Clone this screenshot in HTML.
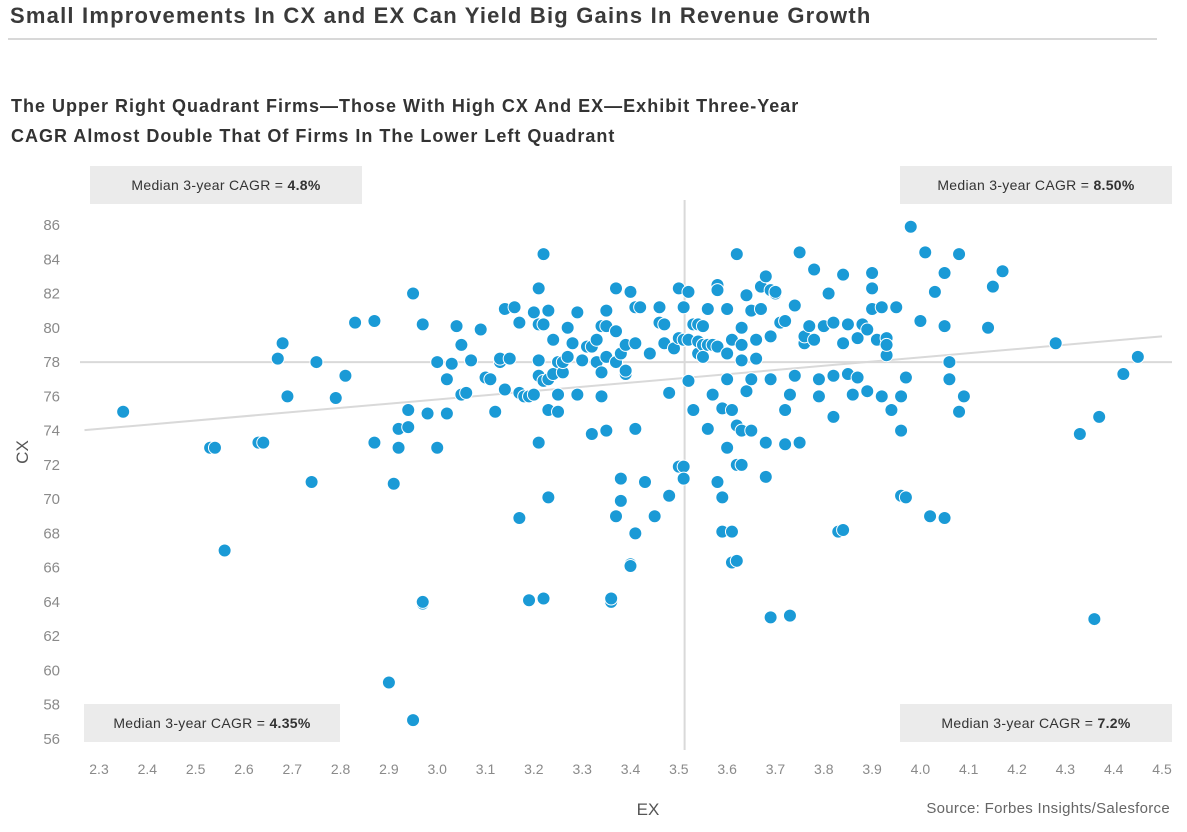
<!DOCTYPE html>
<html><head><meta charset="utf-8"><style>
body{margin:0;width:1187px;height:832px;background:#fff;font-family:"Liberation Sans",sans-serif;overflow:hidden;position:relative}
.t{position:absolute;white-space:nowrap}
.box{position:absolute;background:#ebebeb;height:38px;line-height:38px;text-align:center;font-size:14px;color:#333;letter-spacing:0.3px}
</style></head><body>
<div class="t" style="left:10px;top:3px;font-size:22px;font-weight:bold;color:#3a3a3a;letter-spacing:1.2px">Small Improvements In CX and EX Can Yield Big Gains In Revenue Growth</div>
<div style="position:absolute;left:8px;top:38px;width:1149px;height:2px;background:#d8d8d8"></div>
<div class="t" style="left:11px;top:91px;font-size:18px;font-weight:bold;color:#333;line-height:30px;letter-spacing:1px">The Upper Right Quadrant Firms—Those With High CX And EX—Exhibit Three-Year<br>CAGR Almost Double That Of Firms In The Lower Left Quadrant</div>
<div class="box" style="left:90px;top:166px;width:272px">Median 3-year CAGR = <b>4.8%</b></div>
<div class="box" style="left:900px;top:166px;width:272px">Median 3-year CAGR = <b>8.50%</b></div>
<div class="box" style="left:84px;top:704px;width:256px">Median 3-year CAGR = <b>4.35%</b></div>
<div class="box" style="left:900px;top:704px;width:272px">Median 3-year CAGR = <b>7.2%</b></div>
<div class="t" style="right:17px;top:800px;font-size:15px;color:#666;letter-spacing:0.3px">Source: Forbes Insights/Salesforce</div>
<svg id="chart" width="1187" height="832" style="position:absolute;left:0;top:0"></svg>
<script>
const xTicks=[2.3,2.4,2.5,2.6,2.7,2.8,2.9,3.0,3.1,3.2,3.3,3.4,3.5,3.6,3.7,3.8,3.9,4.0,4.1,4.2,4.3,4.4,4.5];
const yTicks=[56,58,60,62,64,66,68,70,72,74,76,78,80,82,84,86];
const medianEX=3.512, medianCX=78;
const trendStart=[2.3,74.1], trendEnd=[4.5,79.5];
const exValues=[2.35,2.53,2.54,2.56,2.63,2.64,2.67,2.68,2.69,2.74,2.75,2.79,2.81,2.83,2.87,2.87,2.90,2.91,2.92,2.92,2.94,2.94,2.95,2.95,2.97,2.97,2.97,2.98,3.00,3.00,3.02,3.02,3.03,3.04,3.05,3.05,3.06,3.07,3.09,3.10,3.11,3.12,3.13,3.13,3.14,3.14,3.15,3.16,3.17,3.17,3.17,3.18,3.19,3.19,3.20,3.20,3.21,3.21,3.21,3.21,3.21,3.22,3.22,3.22,3.22,3.23,3.23,3.23,3.23,3.24,3.24,3.25,3.25,3.25,3.26,3.26,3.27,3.27,3.28,3.29,3.29,3.30,3.31,3.32,3.32,3.33,3.33,3.34,3.34,3.34,3.35,3.35,3.35,3.35,3.36,3.36,3.37,3.37,3.37,3.37,3.38,3.38,3.38,3.39,3.39,3.39,3.40,3.40,3.40,3.41,3.41,3.41,3.41,3.42,3.43,3.44,3.45,3.46,3.46,3.47,3.47,3.48,3.48,3.49,3.50,3.50,3.50,3.51,3.51,3.51,3.51,3.52,3.52,3.52,3.53,3.53,3.54,3.54,3.54,3.55,3.55,3.55,3.56,3.56,3.56,3.57,3.57,3.58,3.58,3.58,3.58,3.59,3.59,3.59,3.60,3.60,3.60,3.60,3.61,3.61,3.61,3.61,3.62,3.62,3.62,3.62,3.63,3.63,3.63,3.63,3.63,3.64,3.64,3.65,3.65,3.65,3.66,3.66,3.67,3.67,3.68,3.68,3.68,3.69,3.69,3.69,3.69,3.70,3.70,3.71,3.72,3.72,3.72,3.73,3.73,3.74,3.74,3.75,3.75,3.76,3.76,3.77,3.78,3.78,3.79,3.79,3.80,3.81,3.82,3.82,3.82,3.83,3.84,3.84,3.84,3.85,3.85,3.86,3.87,3.87,3.88,3.89,3.89,3.90,3.90,3.90,3.91,3.92,3.92,3.93,3.93,3.93,3.94,3.95,3.96,3.96,3.96,3.97,3.97,3.98,4.00,4.01,4.02,4.03,4.05,4.05,4.05,4.06,4.06,4.08,4.08,4.09,4.14,4.15,4.17,4.28,4.33,4.36,4.37,4.42,4.45];
const cxValues=[75.1,73.0,73.0,67.0,73.3,73.3,78.2,79.1,76.0,71.0,78.0,75.9,77.2,80.3,80.4,73.3,59.3,70.9,73.0,74.1,74.2,75.2,57.1,82.0,63.9,64.0,80.2,75.0,73.0,78.0,77.0,75.0,77.9,80.1,76.1,79.0,76.2,78.1,79.9,77.1,77.0,75.1,78.0,78.2,76.4,81.1,78.2,81.2,68.9,76.2,80.3,76.0,76.0,64.1,80.9,76.1,73.3,77.2,78.1,82.3,80.2,64.2,84.3,76.9,80.2,81.0,77.0,70.1,75.2,77.3,79.3,78.0,75.1,76.1,77.4,78.0,80.0,78.3,79.1,80.9,76.1,78.1,78.9,73.8,78.9,79.3,78.0,76.0,80.1,77.4,80.1,74.0,81.0,78.3,64.0,64.2,78.0,69.0,79.8,82.3,71.2,69.9,78.5,77.3,79.0,77.5,82.1,66.2,66.1,74.1,68.0,81.2,79.1,81.2,71.0,78.5,69.0,80.3,81.2,80.2,79.1,76.2,70.2,78.8,82.3,79.4,71.9,79.3,71.9,71.2,81.2,79.3,82.1,76.9,80.2,75.2,80.2,78.5,79.2,79.0,80.1,78.3,74.1,79.0,81.1,76.1,79.0,71.0,78.9,82.5,82.2,75.3,70.1,68.1,81.1,77.0,73.0,78.5,68.1,79.3,66.3,75.2,84.3,74.3,72.0,66.4,80.0,79.0,72.0,78.1,74.0,81.9,76.3,74.0,81.0,77.0,78.2,79.3,82.4,81.1,83.0,73.3,71.3,63.1,77.0,79.5,82.2,82.0,82.1,80.3,75.2,73.2,80.4,63.2,76.1,77.2,81.3,84.4,73.3,79.1,79.5,80.1,83.4,79.3,76.0,77.0,80.1,82.0,74.8,77.2,80.3,68.1,68.2,79.1,83.1,77.3,80.2,76.1,79.4,77.1,80.2,76.3,79.9,83.2,82.3,81.1,79.3,76.0,81.2,78.4,79.4,79.0,75.2,81.2,74.0,76.0,70.2,70.1,77.1,85.9,80.4,84.4,69.0,82.1,83.2,68.9,80.1,78.0,77.0,84.3,75.1,76.0,80.0,82.4,83.3,79.1,73.8,63.0,74.8,77.3,78.3];

const NS='http://www.w3.org/2000/svg';
const svg=document.getElementById('chart');
const X0=99,X1=1162,Y0=739,Y1=225;
function xs(v){return X0+(v-2.3)/(4.5-2.3)*(X1-X0);}
function ys(v){return Y0-(v-56)/(86-56)*(Y0-Y1);}
function mk(tag,attrs){const e=document.createElementNS(NS,tag);for(const k in attrs)e.setAttribute(k,attrs[k]);svg.appendChild(e);return e;}
let l=mk('line',{x1:xs(medianEX),x2:xs(medianEX),y1:200,y2:750,stroke:'#d9d9d9','stroke-width':2});


l=mk('line',{x1:80,x2:1172,y1:ys(medianCX),y2:ys(medianCX),stroke:'#d9d9d9','stroke-width':2});


const slope=(trendEnd[1]-trendStart[1])/(trendEnd[0]-trendStart[0]);
const xl=2.27;
l=mk('line',{x1:xs(xl),x2:xs(trendEnd[0]),y1:ys(trendStart[1]+slope*(xl-trendStart[0])),y2:ys(trendEnd[1]),stroke:'#d9d9d9','stroke-width':2});


yTicks.forEach(v=>{const t=mk('text',{x:60,y:ys(v)+5,'text-anchor':'end','font-size':15,fill:'#8a8a8a'});t.textContent=v;

});
xTicks.forEach(v=>{const t=mk('text',{x:xs(v),y:774,'text-anchor':'middle','font-size':14,fill:'#8a8a8a'});t.textContent=v.toFixed(1);

});
let t=mk('text',{x:648,y:815,'text-anchor':'middle','font-size':17,fill:'#555'});t.textContent='EX';


t=mk('text',{x:28,y:452,'text-anchor':'middle','font-size':17,fill:'#555',transform:'rotate(-90 28 452)'});t.textContent='CX';


exValues.forEach((ex,i)=>{const c=mk('circle',{cx:xs(ex),cy:ys(cxValues[i]),r:6.5,fill:'#1a9ad6',stroke:'#fff','stroke-width':1});

});
</script>
</body></html>
